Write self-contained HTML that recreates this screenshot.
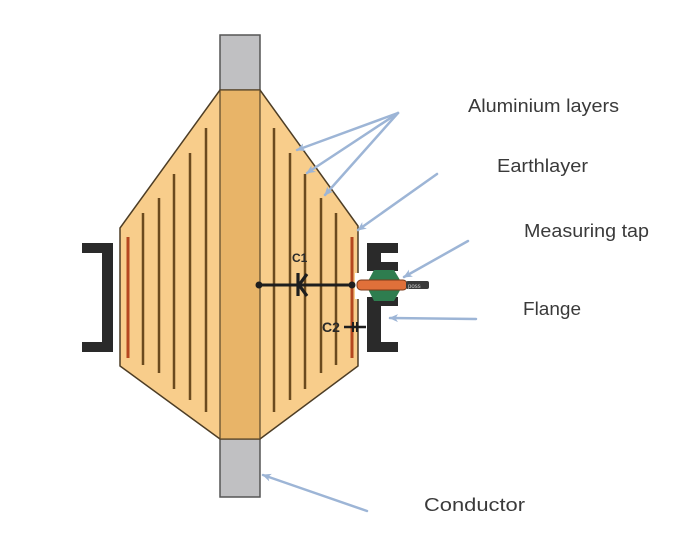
<!DOCTYPE html>
<html>
<head>
<meta charset="utf-8">
<style>
  html,body{margin:0;padding:0;background:#ffffff;}
  body{width:700px;height:553px;overflow:hidden;}
  svg{display:block;}
  .lbl{font-family:"Liberation Sans",sans-serif;font-size:18px;fill:#3a3a3a;}
</style>
</head>
<body>
<svg width="700" height="553" viewBox="0 0 700 553" xmlns="http://www.w3.org/2000/svg">
  <defs>
    <marker id="ah" markerWidth="10" markerHeight="10" refX="8" refY="5" orient="auto" markerUnits="userSpaceOnUse">
      <path d="M0,1 L9,5 L0,9 L2.5,5 Z" fill="#9db5d6"/>
    </marker>
  </defs>

  <!-- top conductor -->
  <rect x="220" y="35" width="40" height="56" fill="#c0c0c2" stroke="#555" stroke-width="1.5"/>
  <!-- bottom conductor -->
  <rect x="220" y="438" width="40" height="59" fill="#c0c0c2" stroke="#555" stroke-width="1.5"/>

  <!-- body hexagon -->
  <polygon points="220,90 260,90 358,226 358,366 260,439 220,439 120,366 120,228" fill="#f8cd8b" stroke="#4d3d25" stroke-width="1.5"/>
  <!-- central strip -->
  <rect x="220" y="90" width="40" height="349" fill="#e8b468" stroke="#5a4528" stroke-width="1.2"/>

  <!-- aluminium layers -->
  <g stroke="#6b4a1e" stroke-width="2.5">
    <line x1="206" y1="128" x2="206" y2="412"/>
    <line x1="190" y1="153" x2="190" y2="400"/>
    <line x1="174" y1="174" x2="174" y2="389"/>
    <line x1="159" y1="198" x2="159" y2="373"/>
    <line x1="143" y1="213" x2="143" y2="365"/>
    <line x1="274" y1="128" x2="274" y2="412"/>
    <line x1="290" y1="153" x2="290" y2="400"/>
    <line x1="305" y1="174" x2="305" y2="389"/>
    <line x1="321" y1="198" x2="321" y2="373"/>
    <line x1="336" y1="213" x2="336" y2="365"/>
  </g>
  <!-- earth layers (red) -->
  <g stroke="#b5471f" stroke-width="3">
    <line x1="128" y1="237" x2="128" y2="358"/>
    <line x1="352" y1="237" x2="352" y2="358"/>
  </g>

  <!-- notch for tap -->
  <rect x="355" y="273" width="12" height="26" fill="#ffffff"/>

  <!-- left flange ] -->
  <g fill="#2a2a2a">
    <rect x="82" y="243" width="31" height="10"/>
    <rect x="102" y="243" width="11" height="109"/>
    <rect x="82" y="342" width="31" height="10"/>
  </g>
  <!-- right flange -->
  <g fill="#2a2a2a">
    <rect x="367" y="243" width="31" height="10"/>
    <rect x="367" y="243" width="14" height="28"/>
    <rect x="367" y="262" width="31" height="9"/>
    <rect x="367" y="297" width="31" height="9"/>
    <rect x="367" y="297" width="14" height="55"/>
    <rect x="367" y="342" width="31" height="10"/>
  </g>

  <!-- measuring tap -->
  <polygon points="374,270 394,270 403,285 394,301 374,301 366,285" fill="#2e7d4f"/>
  <rect x="357" y="280" width="50" height="10" rx="4" fill="#e0703a" stroke="#7a3a1a" stroke-width="1"/>
  <rect x="406" y="281" width="23" height="8" rx="2" fill="#3a3a3a"/>
  <text x="408" y="288" font-family="Liberation Sans,sans-serif" font-size="6" fill="#cfcfcf">poss</text>

  <!-- C1 line -->
  <line x1="259" y1="285" x2="352" y2="285" stroke="#1e1e1e" stroke-width="3"/>
  <circle cx="259" cy="285" r="3.5" fill="#1e1e1e"/>
  <circle cx="352" cy="285" r="3.5" fill="#1e1e1e"/>
  <!-- capacitor K symbol -->
  <line x1="298" y1="273" x2="298" y2="296" stroke="#1e1e1e" stroke-width="3.2"/>
  <polyline points="307,274 299,285 307,296" fill="none" stroke="#1e1e1e" stroke-width="3.2"/>
  <text x="292" y="262" font-family="Liberation Sans,sans-serif" font-size="12" font-weight="bold" fill="#2a2a2a">C1</text>

  <!-- C2 -->
  <text x="322" y="332" font-family="Liberation Sans,sans-serif" font-size="14" font-weight="bold" fill="#2a2a2a">C2</text>
  <line x1="344" y1="327" x2="366" y2="327" stroke="#1e1e1e" stroke-width="2.5"/>
  <line x1="353" y1="322" x2="353" y2="332" stroke="#1e1e1e" stroke-width="2"/>
  <line x1="357" y1="322" x2="357" y2="332" stroke="#1e1e1e" stroke-width="2"/>

  <!-- arrows -->
  <g stroke="#9db5d6" stroke-width="2.5" fill="none" stroke-linecap="round">
    <line x1="398" y1="113" x2="297" y2="150" marker-end="url(#ah)"/>
    <line x1="398" y1="113" x2="307" y2="173" marker-end="url(#ah)"/>
    <line x1="398" y1="113" x2="325" y2="195" marker-end="url(#ah)"/>
    <line x1="437" y1="174" x2="358" y2="230" marker-end="url(#ah)"/>
    <line x1="468" y1="241" x2="404" y2="277" marker-end="url(#ah)"/>
    <line x1="476" y1="319" x2="390" y2="318" marker-end="url(#ah)"/>
    <line x1="367" y1="511" x2="263" y2="475" marker-end="url(#ah)"/>
  </g>

  <!-- labels -->
  <text class="lbl" x="468" y="112" textLength="151" lengthAdjust="spacingAndGlyphs">Aluminium layers</text>
  <text class="lbl" x="497" y="172" textLength="91" lengthAdjust="spacingAndGlyphs">Earthlayer</text>
  <text class="lbl" x="524" y="237" textLength="125" lengthAdjust="spacingAndGlyphs">Measuring tap</text>
  <text class="lbl" x="523" y="315" textLength="58" lengthAdjust="spacingAndGlyphs">Flange</text>
  <text class="lbl" x="424" y="511" textLength="101" lengthAdjust="spacingAndGlyphs">Conductor</text>
</svg>
</body>
</html>
